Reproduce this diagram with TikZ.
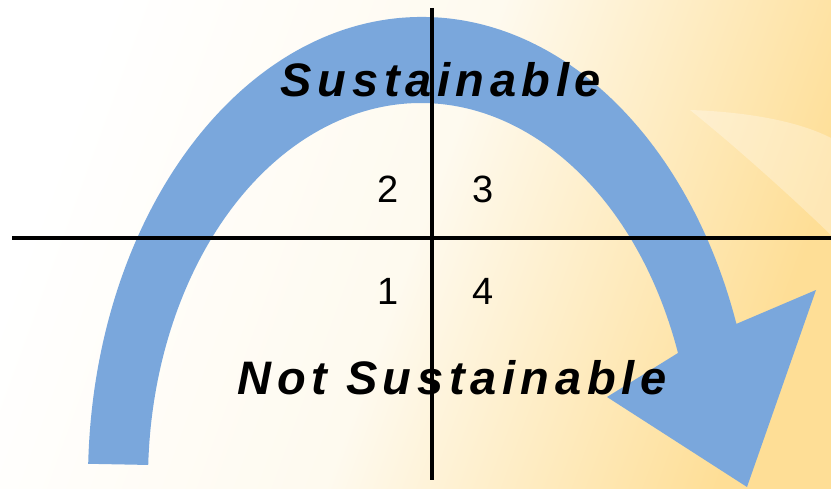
\documentclass[tikz,border=0pt]{standalone}
\usepackage{fontspec}
\setmainfont{Liberation Sans}
\newfontfamily\signfont{Liberation Sans}[LetterSpace=12]
\usetikzlibrary{positioning}
\definecolor{arrowblue}{RGB}{122,167,220}
\definecolor{bgcream}{RGB}{253,240,208}
\definecolor{bgpeach}{RGB}{254,222,150}
\tikzset{axis/.style={line width=4.5pt},
  quadnum/.style={font=\fontsize{38}{40}\selectfont,anchor=base,inner sep=0pt},
  verdict/.style={font=\signfont\bfseries\itshape\fontsize{47}{50}\selectfont,anchor=base,inner sep=0pt}}

\begin{document}
\begin{tikzpicture}[x=1pt,y=-1pt]
\useasboundingbox (0,0) rectangle (831,489);
\shade[top color=white, bottom color=bgpeach, middle color=bgcream!35, shading angle=70] (0,0) rectangle (831,489);
\fill[white, opacity=0.3] (690,110) .. controls (750,112) and (800,122) .. (831,138) -- (831,235) .. controls (800,205) and (740,150) .. (690,110) -- cycle;

\fill[arrowblue] (88.2,463.8) arc[start angle=-178, end angle=-19.7, x radius=334, y radius=463]
  -- (816,290) -- (747,487) -- (607,397) -- (678,353)
  arc[start angle=-19.7, end angle=-177.7, x radius=273, y radius=377] -- cycle;

\node (sus) [verdict] at (441,97) {Sustainable};
\node (notsus) [verdict] at (452,395) {Not Sustainable};
\foreach \n/\x/\y in {2/388/203, 3/483/203, 1/388/305, 4/483/305} {
\node (q\n) [quadnum] at (\x,\y) {\n};
}

\coordinate (vtop) at (432,8);
\coordinate (vbot) at (432,480);
\coordinate (hleft) at (12,238);
\coordinate (hright) at (831,238);
\draw[axis] (vtop) -- (vbot);
\draw[axis] (hleft) -- (hright);
\end{tikzpicture}
\end{document}
